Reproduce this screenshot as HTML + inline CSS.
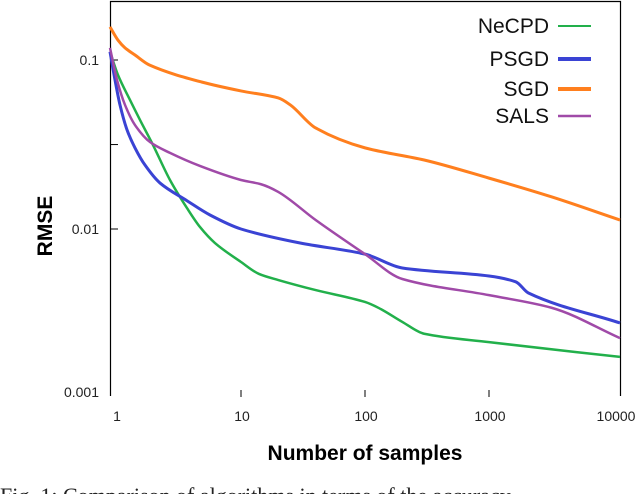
<!DOCTYPE html>
<html><head><meta charset="utf-8"><style>
body{margin:0;background:#fff;width:638px;height:494px;overflow:hidden;position:relative}
svg{position:absolute;left:0;top:0}
</style></head><body>
<svg id="chart" width="638" height="494" font-family="Liberation Sans, sans-serif">
<g id="axes"></g>
<g id="series"></g>
<g id="legend"></g>
<text x="365" y="460" text-anchor="middle" font-size="21" font-weight="bold">Number of samples</text>
<text transform="translate(52,226) rotate(-90)" text-anchor="middle" font-size="21" font-weight="bold">RMSE</text>
<text x="0" y="503" font-family="Liberation Serif, serif" font-size="22" fill="#222">Fig. 1: Comparison of algorithms in terms of the accuracy</text>
</svg>
<script>
const xTicks=[1,10,100,1000,10000];
const xTickLabels=["1","10","100","1000","10000"];
const yTicks=[0.1,0.01,0.001];
const yTickLabels=["0.1","0.01","0.001"];
const seriesNames=["NeCPD","PSGD","SGD","SALS"];
const seriesColors=["#22b04b","#3a43d4","#ff7f1e","#a04aa8"];
const necpdX=[1,1.151,1.421,1.694,2.13,2.87,3.87,4.86,6.33,10,13.97,20,40,100,130,200,300,1000,10000];
const necpdY=[0.112,0.0815,0.058,0.0442,0.0314,0.0195,0.0133,0.01028,0.00826,0.00638,0.00542,0.00499,0.00435,0.0037,0.0034,0.00282,0.0024,0.00214,0.00175];
const psgdX=[1,1.092,1.192,1.349,1.552,1.85,2.41,3.87,5.8,10,30,100,200,1000,1600,2000,10000];
const psgdY=[0.112,0.0762,0.0542,0.0386,0.0302,0.0239,0.0187,0.0147,0.0121,0.01,0.00826,0.0071,0.00588,0.00527,0.00487,0.00418,0.00278];
const sgdX=[1,1.151,1.302,1.552,2,5,10,20,25,40,100,300,1000,3000,10000];
const sgdY=[0.157,0.131,0.118,0.107,0.0934,0.0741,0.0656,0.0596,0.0542,0.0396,0.0302,0.0256,0.02,0.0155,0.0113];
const salsX=[1,1.131,1.302,1.552,2.02,2.87,4.86,10,14.5,19.9,40,100,200,1000,3000,10000];
const salsY=[0.118,0.0762,0.0542,0.0412,0.0327,0.0282,0.0236,0.0195,0.0184,0.0166,0.0113,0.0071,0.00506,0.00406,0.00342,0.00226];
const xPix=[110,241,365,489,620];
function xs(v){const l=Math.log10(v);let i=Math.min(3,Math.max(0,Math.floor(l)));return xPix[i]+(l-i)*(xPix[i+1]-xPix[i]);}
function ys(v){return 60+(-1-Math.log10(v))*169;}
const NS="http://www.w3.org/2000/svg";
function mk(t,a,p){const e=document.createElementNS(NS,t);for(const k in a)e.setAttribute(k,a[k]);p.appendChild(e);return e;}
const axes=document.getElementById('axes');
let e=mk('path',{d:'M110.5 396V1.5H620.5V396',fill:'none',stroke:'#000','stroke-width':1.2},axes);


xTicks.forEach((t,i)=>{const x=xs(t);
 if(i>0&&i<4){const l=mk('line',{x1:x,x2:x,y1:390,y2:397,stroke:'#000'},axes);
 
 }
 const tx=mk('text',{x:i==0?117:(i==4?616:x+1),y:421,'text-anchor':'middle','font-size':14,fill:'#222'},axes);tx.textContent=xTickLabels[i];
 
 });
yTicks.forEach((t,i)=>{const y=Math.min(ys(t),392);
 if(i<2){const l=mk('line',{x1:110,x2:118,y1:y,y2:y,stroke:'#000'},axes);
 
 }
 const tx=mk('text',{x:99,y:y+5,'text-anchor':'end','font-size':14,fill:'#222'},axes);tx.textContent=yTickLabels[i];
 
 });
const mt=mk('line',{x1:110,x2:118,y1:ys(0.0316),y2:ys(0.0316),stroke:'#000'},axes);


function pathD(X,Y){const p=X.map((x,i)=>[xs(x),ys(Y[i])]);const n=p.length;
 const dk=[];for(let i=0;i<n-1;i++)dk.push((p[i+1][1]-p[i][1])/(p[i+1][0]-p[i][0]));
 const m=[dk[0]];for(let i=1;i<n-1;i++){m.push(dk[i-1]*dk[i]<=0?0:2/(1/dk[i-1]+1/dk[i]));}m.push(dk[n-2]);
 let d='M'+p[0][0]+' '+p[0][1];
 for(let i=0;i<n-1;i++){const h=(p[i+1][0]-p[i][0])/3;
 d+=` C${p[i][0]+h} ${p[i][1]+m[i]*h} ${p[i+1][0]-h} ${p[i+1][1]-m[i+1]*h} ${p[i+1][0]} ${p[i+1][1]}`;}return d;}
const sg=document.getElementById('series');
const data=[[necpdX,necpdY],[psgdX,psgdY],[sgdX,sgdY],[salsX,salsY]];
const widths=[2.5,3,3,2.5];
data.forEach((s,i)=>{const p=mk('path',{d:pathD(s[0],s[1]),fill:'none',stroke:seriesColors[i],'stroke-width':widths[i]},sg);
 
 });
const lg=document.getElementById('legend');const ly=[26,59,89,116];const lw=[2,4,4,2.5];
seriesNames.forEach((n,i)=>{const t=mk('text',{x:549,y:ly[i]+7,'text-anchor':'end','font-size':21,fill:'#111'},lg);t.textContent=n;
 
 
 const l=mk('line',{x1:558,x2:591,y1:ly[i],y2:ly[i],stroke:seriesColors[i],'stroke-width':lw[i]},lg);
 
 });
</script>
</body></html>
